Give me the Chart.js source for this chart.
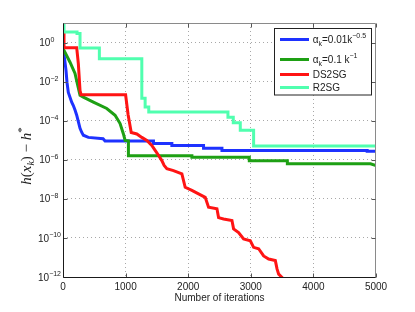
<!DOCTYPE html>
<html>
<head>
<meta charset="utf-8">
<script src="https://cdn.jsdelivr.net/npm/chart.js@4.4.1/dist/chart.umd.min.js"></script>
<style>
  html, body { margin: 0; padding: 0; background: #fff; }
  #wrap { width: 415px; height: 312px; }
</style>
</head>
<body>
<div id="wrap"><canvas id="chart" width="415" height="312"></canvas></div>
<script>
// ---------- Data ----------

const xTicks = [0, 1000, 2000, 3000, 4000, 5000];
const yTickValues = [1e-12, 1e-10, 1e-8, 1e-6, 1e-4, 1e-2, 1e0];
const yTickExponents = ['\u221212', '\u221210', '\u22128', '\u22126', '\u22124', '\u22122', '0'];

// alpha_k = 0.01 k^-0.5
const sqrtIter = [0, 24, 48, 64, 85, 139, 165, 192, 219, 245, 272, 300, 325, 405, 640, 672,
  1445, 1445, 1739, 1739, 2245, 2245, 2539, 2539, 4859, 4859, 5000];
const sqrtGap = [0.49, 0.16, 0.038, 9.1e-3, 2.8e-3, 8.9e-4, 6.0e-4, 3.5e-4, 1.9e-4, 8.9e-5, 4.1e-5, 2.5e-5, 1.8e-5, 1.4e-5, 1.2e-5, 9.1e-6,
  9.1e-6, 6.9e-6, 6.9e-6, 5.4e-6, 5.4e-6, 3.9e-6, 3.9e-6, 3.0e-6, 3.0e-6, 2.7e-6, 2.7e-6];

// alpha_k = 0.1 k^-1
const invIter = [0, 112, 192, 229, 272, 325, 485, 699, 832, 912, 965, 992, 1045, 1045,
  2059, 2059, 2976, 2976, 3584, 3584, 4912, 5000];
const invGap = [0.50, 0.098, 0.026, 7.9e-3, 2.0e-3, 1.6e-3, 8.9e-4, 4.2e-4, 1.9e-4, 7.1e-5, 2.1e-5, 9.8e-6, 9.3e-6, 1.6e-6,
  1.6e-6, 1.35e-6, 1.35e-6, 8.9e-7, 8.9e-7, 6.2e-7, 6.2e-7, 5.1e-7];

// DS2SG
const ds2sgIter = [0, 16, 16, 219, 245, 272, 290, 1000, 1040, 1090, 1179, 1259, 1339, 1419, 1472, 1525,
  1579, 1616, 1659, 1765, 1899, 1952, 2059, 2165, 2272, 2325, 2459, 2485, 2565, 2699, 2725,
  2805, 2885, 2992, 3045, 3125, 3205, 3285, 3392, 3419, 3445, 3499, 3560];
const ds2sgGap = [3.0, 3.0, 0.54, 0.54, 0.083, 3.5e-3, 2.1e-3, 2.1e-3, 2.0e-4, 2.5e-5, 2.1e-5, 1.4e-5, 9.8e-6, 5.4e-6, 3.0e-6, 1.7e-6,
  9.1e-7, 5.1e-7, 3.5e-7, 2.8e-7, 1.9e-7, 3.9e-8, 2.7e-8, 1.8e-8, 1.2e-8, 3.7e-9, 3.1e-9, 1.1e-9, 9.3e-10, 7.8e-10, 2.9e-10,
  1.9e-10, 8.9e-11, 7.2e-11, 3.3e-11, 2.8e-11, 1.2e-11, 8.3e-12, 6.9e-12, 2.6e-12, 1.4e-12, 9.5e-13, 5.0e-13];

// R2SG
const r2sgIter = [0, 16, 16, 224, 224, 272, 272, 581, 581, 1259, 1259, 1312, 1312, 1370, 1370,
  2635, 2635, 2720, 2720, 2832, 2832, 3045, 3045, 5000];
const r2sgGap = [10, 10, 3.5, 3.5, 2.9, 2.9, 0.53, 0.53, 0.15, 0.15, 1.4e-3, 1.4e-3, 5.0e-4, 5.0e-4, 2.8e-4,
  2.8e-4, 1.5e-4, 1.5e-4, 7.9e-5, 7.9e-5, 3.2e-5, 3.2e-5, 5.0e-6, 5.0e-6];

const seriesColors = ['rgb(30,50,255)', 'rgb(30,160,20)', 'rgb(255,20,20)', 'rgb(80,255,175)'];

// legend texts, split in normal / sub / sup pieces
const legendRows = [
  [['\u03b1', 'n'], ['k', 'sub'], ['=0.01k', 'n'], ['\u22120.5', 'sup']],
  [['\u03b1', 'n'], ['k', 'sub'], ['=0.1 k', 'n'], ['\u22121', 'sup']],
  [['DS2SG', 'n']],
  [['R2SG', 'n']]
];

const SANS = '"Liberation Sans", Arial, sans-serif';
const SERIF = '"Liberation Serif", "Times New Roman", serif';

function toPoints(xs, ys) {
    return xs.map((x, i) => ({ x: x, y: ys[i] }));
}

// ---------- Overlay: box, inward ticks, y labels, y title, legend ----------

const overlay = {
    id: 'overlay',
    afterDraw(chart) {
        const ctx = chart.ctx;
        const a = chart.chartArea;
        const xs = chart.scales.x;
        const ys = chart.scales.y;
        const L = 63.5, R = Math.round(a.right) - 0.5, T = 23.5, B = Math.round(a.bottom) + 0.5;

        ctx.save();
        ctx.lineWidth = 1;

        // top + right (grey)
        ctx.strokeStyle = '#8a8a8a';
        ctx.beginPath();
        ctx.moveTo(L, T); ctx.lineTo(R, T); ctx.lineTo(R, B);
        ctx.stroke();

        // ticks
        ctx.strokeStyle = '#555';
        ctx.beginPath();
        xTicks.forEach(v => {
            const px = Math.round(xs.getPixelForValue(v)) + 0.5;
            ctx.moveTo(px, B); ctx.lineTo(px, B - 4);
            ctx.moveTo(px, T); ctx.lineTo(px, T + 4);
        });
        yTickValues.forEach(v => {
            const py = Math.round(ys.getPixelForValue(v)) + 0.5;
            ctx.moveTo(L, py); ctx.lineTo(L + 4, py);
            ctx.moveTo(R, py); ctx.lineTo(R - 4, py);
        });
        ctx.stroke();

        // left + bottom (black)
        ctx.strokeStyle = '#1a1a1a';
        ctx.beginPath();
        ctx.moveTo(L, T); ctx.lineTo(L, B); ctx.lineTo(R, B);
        ctx.stroke();

        // y tick labels 10^e
        ctx.fillStyle = '#222';
        ctx.textAlign = 'left';
        ctx.textBaseline = 'alphabetic';
        yTickValues.forEach((v, i) => {
            const py = ys.getPixelForValue(v);
            ctx.font = '10px ' + SANS;
            const wb = ctx.measureText('10').width;
            ctx.font = '7px ' + SANS;
            const we = ctx.measureText(yTickExponents[i]).width;
            const x0 = Math.min(39.3, 61 - wb - we);
            ctx.font = '10px ' + SANS;
            ctx.fillText('10', x0, py + 3.6);
            ctx.font = '7px ' + SANS;
            ctx.fillText(yTickExponents[i], x0 + wb, py - 0.8);
        });

        // y axis title h(x_k) - h*
        const parts = [
            ['h', 'italic 15px ' + SERIF, 0],
            ['(', '15px ' + SERIF, 0],
            ['x', 'italic 15px ' + SERIF, 0],
            ['k', 'italic 10px ' + SERIF, 3],
            [')', '15px ' + SERIF, 0],
            [' \u2212 ', '15px ' + SERIF, 0],
            ['h', 'italic 15px ' + SERIF, 0],
            ['*', '11px ' + SERIF, -6]
        ];
        let total = 0;
        parts.forEach(p => { ctx.font = p[1]; total += ctx.measureText(p[0]).width; });
        ctx.translate(27.5, 156);
        ctx.rotate(-Math.PI / 2);
        let cx = -total / 2;
        parts.forEach(p => {
            ctx.font = p[1];
            ctx.fillText(p[0], cx, 3.5 + p[2]);
            cx += ctx.measureText(p[0]).width;
        });
        ctx.setTransform(1, 0, 0, 1, 0, 0);

        // legend
        ctx.fillStyle = '#fff';
        ctx.fillRect(274.5, 28.5, 97, 66.5);
        ctx.strokeStyle = '#222';
        ctx.strokeRect(274.5, 28.5, 97, 66.5);
        const rowY = [39.5, 59.5, 74.5, 87.5];
        legendRows.forEach((row, i) => {
            ctx.strokeStyle = seriesColors[i];
            ctx.lineWidth = 3;
            ctx.beginPath();
            ctx.moveTo(280, rowY[i]); ctx.lineTo(309, rowY[i]);
            ctx.stroke();
            ctx.fillStyle = '#222';
            let tx = 312.7;
            const base = rowY[i] + 3.5;
            row.forEach(seg => {
                const kind = seg[1];
                ctx.font = (kind === 'n' ? '10px ' : '7px ') + SANS;
                const dy = kind === 'sub' ? 3.2 : (kind === 'sup' ? -5.5 : 0);
                ctx.fillText(seg[0], tx, base + dy);
                tx += ctx.measureText(seg[0]).width;
            });
        });

        ctx.restore();
    }
};

// ---------- Chart ----------

const datasets = [
    { data: toPoints(sqrtIter, sqrtGap), borderColor: seriesColors[0], order: 4 },
    { data: toPoints(invIter, invGap), borderColor: seriesColors[1], order: 3 },
    { data: toPoints(ds2sgIter, ds2sgGap), borderColor: seriesColors[2], order: 2 },
    { data: toPoints(r2sgIter, r2sgGap), borderColor: seriesColors[3], order: 1 }
].map(d => Object.assign(d, { borderWidth: 3, pointRadius: 0, tension: 0, fill: false }));

new Chart(document.getElementById('chart'), {
    type: 'line',
    data: { datasets: datasets },
    options: {
        responsive: false,
        animation: false,
        layout: { padding: { left: 0, top: 23, right: 39, bottom: 0 } },
        plugins: { legend: { display: false }, tooltip: { enabled: false } },
        scales: {
            x: {
                type: 'linear',
                min: 0,
                max: 5000,
                afterBuildTicks: s => { s.ticks = xTicks.map(v => ({ value: v })); },
                afterFit: s => { s.height = 35; },
                ticks: {
                    color: '#222',
                    font: { family: SANS, size: 10 },
                    padding: 4,
                    maxRotation: 0,
                    callback: v => String(v)
                },
                grid: {
                    drawTicks: false,
                    color: '#a8a8a8',
                    lineWidth: c => (c.tick && (c.tick.value === 0 || c.tick.value === 5000)) ? 0 : 1
                },
                border: { display: false, dash: [1, 3] },
                title: {
                    display: true,
                    text: 'Number of iterations',
                    color: '#222',
                    font: { family: SANS, size: 10 },
                    padding: { top: 0, bottom: 8 }
                }
            },
            y: {
                type: 'logarithmic',
                min: 1e-12,
                max: 10,
                afterBuildTicks: s => { s.ticks = yTickValues.map(v => ({ value: v })); },
                afterFit: s => { s.width = 63; },
                ticks: { display: false },
                grid: {
                    drawTicks: false,
                    color: '#a8a8a8',
                    lineWidth: c => (c.tick && c.tick.value === 1e-12) ? 0 : 1
                },
                border: { display: false, dash: [1, 3] }
            }
        }
    },
    plugins: [overlay]
});
</script>
</body>
</html>
